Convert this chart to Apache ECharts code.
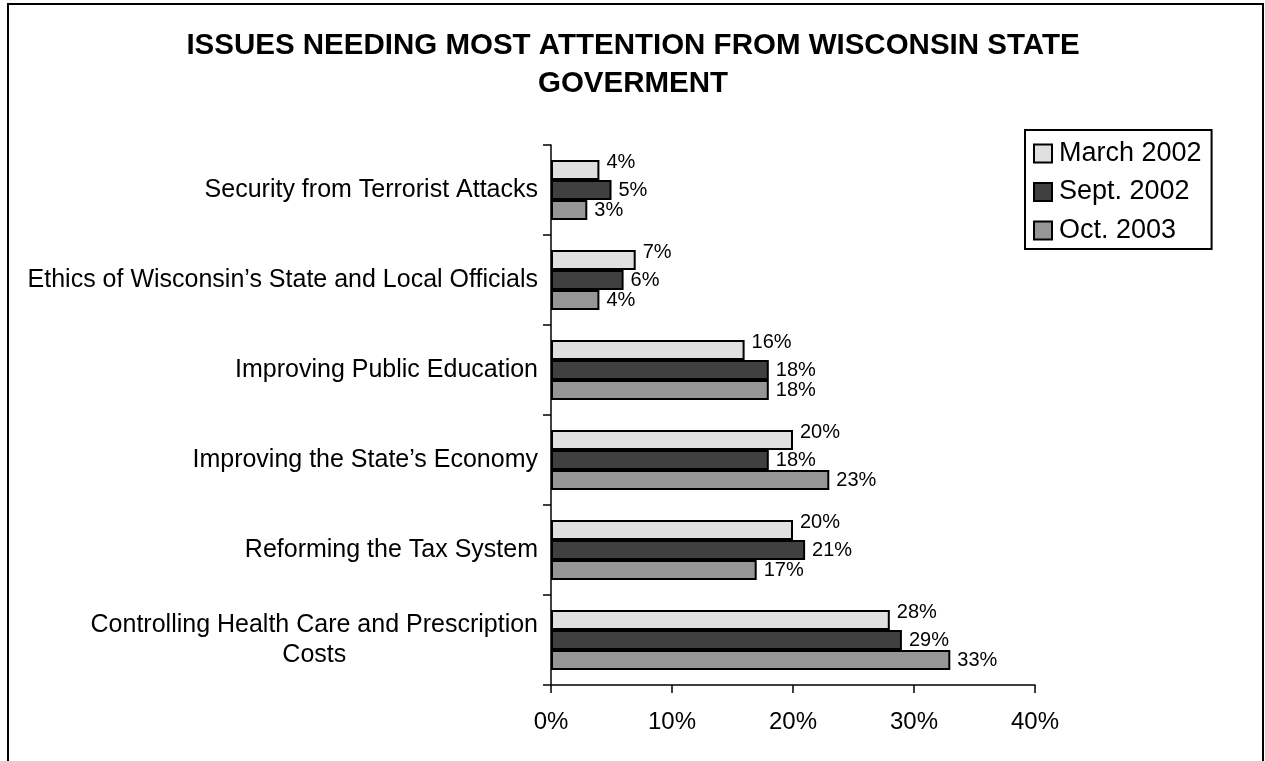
<!DOCTYPE html>
<html>
<head>
<meta charset="utf-8">
<script src="https://cdn.jsdelivr.net/npm/echarts@6/dist/echarts.min.js"></script>
<style>
html,body{margin:0;padding:0;background:#fff;}
#chart{width:1265px;height:761px;}
</style>
</head>
<body>
<div id="chart"></div>
<script>
const categories = [
  'Security from Terrorist Attacks',
  'Ethics of Wisconsin\u2019s State and Local Officials',
  'Improving Public Education',
  'Improving the State\u2019s Economy',
  'Reforming the Tax System',
  'Controlling Health Care and Prescription\nCosts'
];
const seriesNames = ['March 2002', 'Sept. 2002', 'Oct. 2003'];
const march2002 = [4, 7, 16, 20, 20, 28];
const sept2002 = [5, 6, 18, 18, 21, 29];
const oct2003 = [3, 4, 18, 23, 17, 33];
const xTicks = [0, 10, 20, 30, 40];

const FONT = '"Liberation Sans", Arial, sans-serif';
const colors = ['#E0E0E0', '#404040', '#969696'];
const seriesData = [march2002, sept2002, oct2003];

const chart = echarts.init(document.getElementById('chart'), null, {renderer: 'canvas'});

const series = seriesData.map((d, i) => ({
  name: seriesNames[i],
  type: 'bar',
  data: d,
  barWidth: 20,
  barGap: '0%',
  itemStyle: {color: colors[i], borderColor: '#000', borderWidth: 2},
  label: {
    show: true,
    position: 'right',
    distance: 7,
    offset: i === 0 ? [0, -8] : [0, 0],
    formatter: p => p.value + '%',
    fontFamily: FONT,
    fontSize: 20,
    color: '#000'
  },
  emphasis: {disabled: true}
}));

chart.setOption({
  animation: false,
  backgroundColor: '#fff',
  textStyle: {fontFamily: FONT},
  title: {
    text: 'ISSUES NEEDING MOST ATTENTION FROM WISCONSIN STATE\nGOVERMENT',
    left: 633,
    textAlign: 'center',
    top: 27,
    padding: 0,
    textStyle: {fontFamily: FONT, fontSize: 29.5, fontWeight: 'bold', color: '#000', lineHeight: 38}
  },
  legend: {
    orient: 'vertical',
    left: 1025,
    top: 130,
    padding: [10, 10, 5, 8],
    itemGap: 11.5,
    itemWidth: 18,
    itemHeight: 18,
    icon: 'rect',
    borderColor: '#000',
    borderWidth: 2,
    itemStyle: {borderColor: '#000', borderWidth: 2},
    textStyle: {fontFamily: FONT, fontSize: 27, color: '#000', padding: [0, 0, 0, 2]},
    data: seriesNames
  },
  grid: {left: 551, right: 230, top: 145, bottom: 76, containLabel: false},
  xAxis: {
    type: 'value',
    min: xTicks[0],
    max: xTicks[xTicks.length - 1],
    interval: xTicks[1] - xTicks[0],
    axisLine: {show: true, lineStyle: {color: '#000', width: 1.5}},
    axisTick: {show: true, length: 8, lineStyle: {color: '#000', width: 1.5}},
    splitLine: {show: false},
    axisLabel: {formatter: '{value}%', fontFamily: FONT, fontSize: 24, color: '#000', margin: 25}
  },
  yAxis: {
    type: 'category',
    inverse: true,
    data: categories,
    axisLine: {show: true, lineStyle: {color: '#000', width: 1.5}},
    axisTick: {show: true, length: 8, lineStyle: {color: '#000', width: 1.5}},
    axisLabel: {
      margin: 13,
      fontFamily: FONT,
      fontSize: 25,
      color: '#000',
      lineHeight: 30,
      formatter: v => v.split('\n').map(s => '{a|' + s + '}').join('\n'),
      rich: {a: {align: 'center', fontFamily: FONT, fontSize: 25, color: '#000', lineHeight: 30}}
    }
  },
  series: series,
  graphic: [{
    type: 'rect',
    shape: {x: 8, y: 4, width: 1255, height: 800},
    style: {fill: 'none', stroke: '#000', lineWidth: 2},
    silent: true,
    z: 100
  }]
});
</script>
</body>
</html>
